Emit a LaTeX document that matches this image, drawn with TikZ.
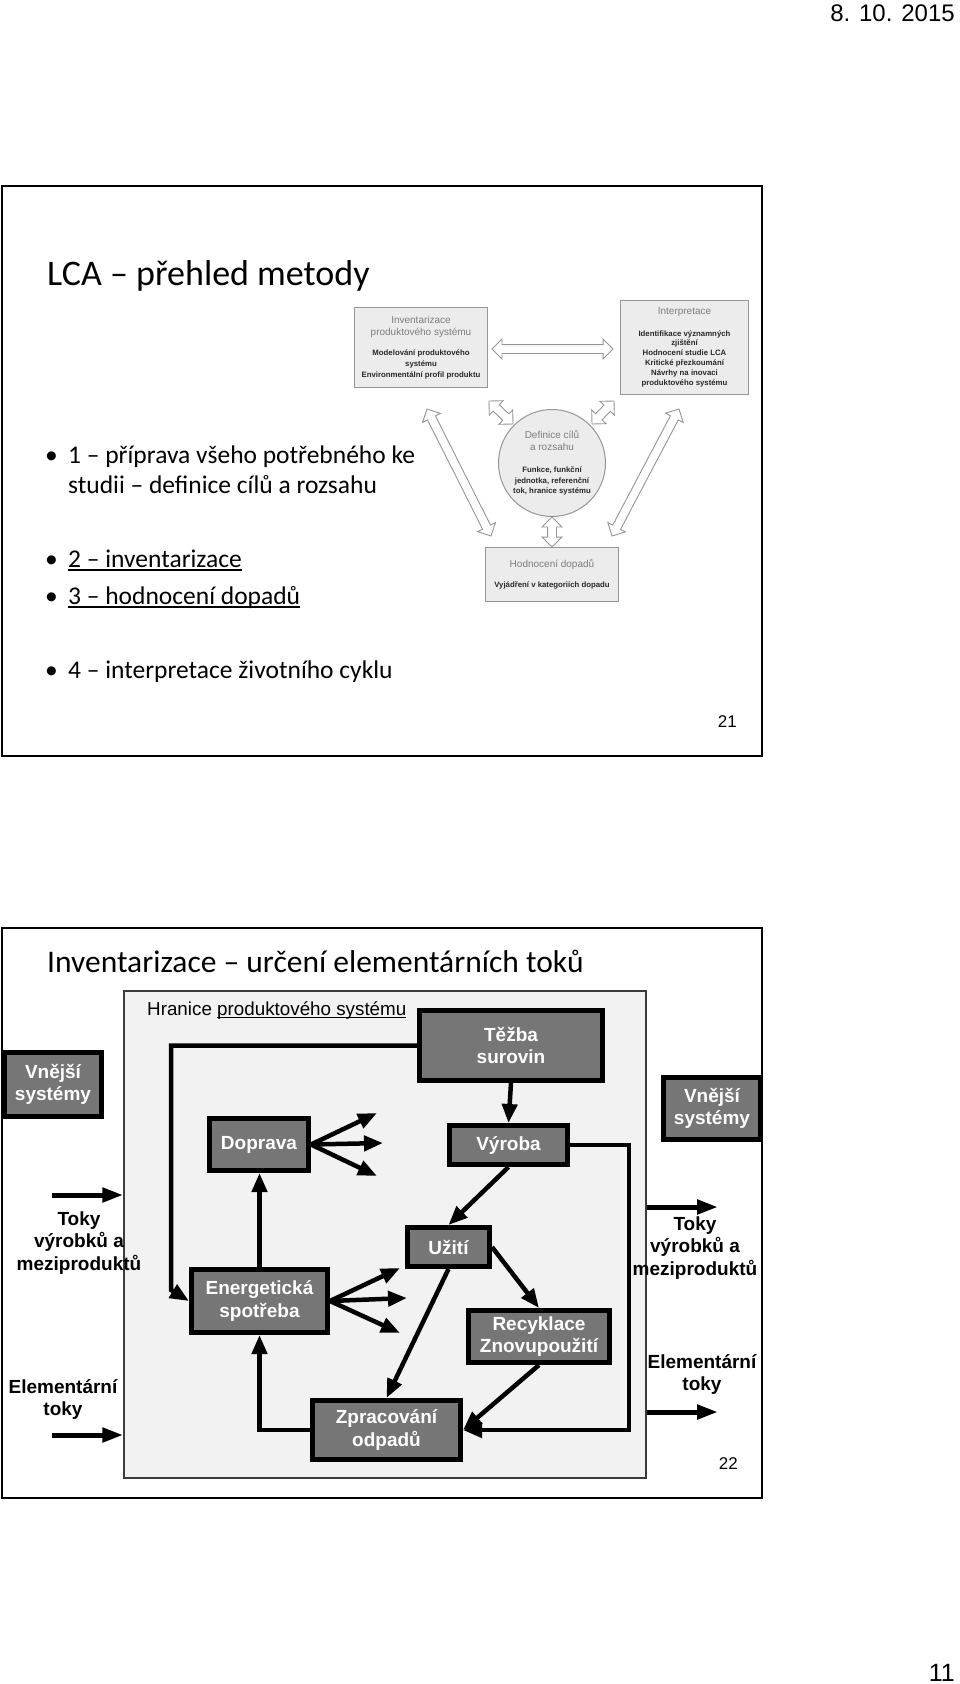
\documentclass[tikz,border=0pt]{standalone}
\usepackage{fontspec}
\setmainfont{Liberation Sans}
\newfontfamily\calfont{Carlito}
\usetikzlibrary{arrows.meta,shapes.arrows,calc}
\definecolor{boxgray}{RGB}{118,118,118}
\definecolor{bndfill}{RGB}{242,242,242}
\definecolor{bndline}{RGB}{60,60,60}
\definecolor{lcafill}{RGB}{236,236,236}
\definecolor{lcaline}{RGB}{150,150,150}
\definecolor{lcahdr}{RGB}{125,125,125}
\definecolor{lcabody}{RGB}{40,40,40}
\newcommand\boxfont{\bfseries\fontsize{19}{22.5}\selectfont}
\newcommand\lh[1]{{\color{lcahdr}\mdseries\fontsize{10}{11}\selectfont #1}}
\newcommand\lb[1]{{\color{lcabody}\bfseries\fontsize{7.8}{10}\selectfont #1}}
\newcommand\undl[2][3pt]{\setbox0=\hbox{#2}\rlap{\rule[-#1]{\wd0}{1.4pt}}\box0}
\newcommand\cstack[1]{\vtop{\halign{\hfil##\hfil\cr#1\crcr}}}
\newcommand\lcadbl[3]{\path let \p1=($(#3)-(#2)$) in node[lcaarr,minimum height={veclen(\x1,\y1)},rotate={atan2(\y1,\x1)}] (#1) at ($(#2)!0.5!(#3)$) {};}
\begin{document}
\begin{tikzpicture}[x=1pt,y=-1pt,
  frame/.style={draw=black,line width=2.2pt},
  dkbox/.style={draw=black,line width=5pt,fill=boxgray,text=white,font=\boxfont,align=center,inner sep=0pt},
  conn/.style={line width=4.5pt,-{Triangle[length=19pt,width=15pt]}},
  flow/.style={line width=5pt,-{Triangle[length=21pt,width=14pt]}},
  lbl/.style={font=\boxfont,inner sep=0pt,anchor=base},
  lcabox/.style={draw=lcaline,line width=1pt,fill=lcafill,inner sep=0pt},
  lcaarr/.style={double arrow,draw=lcaline,fill=white,line width=0.9pt,inner sep=4pt,double arrow head extend=5.5pt,double arrow tip angle=90},
  plain/.style={inner sep=0pt}]
\useasboundingbox (0,0) rectangle (960,1684);
\fill[white] (0,0) rectangle (960,1684);
% page header / footer
\node[plain,anchor=base east,font=\fontsize{24}{28}\selectfont] (date) at (955,21) {8. 10. 2015};
\node[plain,anchor=base east,font=\fontsize{25}{28}\selectfont] (pgno) at (955,1681) {11};
% ---------------- slide 21 ----------------
\draw[frame] (2,186) rectangle (762,756);
\node[plain,anchor=base west,font=\calfont\fontsize{36}{42}\selectfont] (title1) at (47,285.5) {LCA – přehled metody};
\begin{scope}[every node/.style={plain,anchor=base west,font=\calfont\fontsize{25.5}{30}\selectfont}]
\node (bu1) at (45,463) {•};
\node (bt1) at (68,463) {\vtop{\hbox{1 – příprava všeho potřebného ke}\hbox{studii – definice cílů a rozsahu}}};
\node (bu2) at (45,567) {•};
\node (bt2) at (68,567) {\undl[3.5pt]{2 – inventarizace}};
\node (bu3) at (45,604) {•};
\node (bt3) at (68,604) {\undl[3.5pt]{3 – hodnocení dopadů}};
\node (bu4) at (45,678) {•};
\node (bt4) at (68,678) {4 – interpretace životního cyklu};
\end{scope}
\node[plain,anchor=base east,font=\fontsize{17}{20}\selectfont] (n21) at (737,727) {21};
% LCA framework figure
\node[lcabox,minimum width=133,minimum height=80,font=\fontsize{7.8}{10.7}\selectfont] (inv) at (421,347.5)
 {\cstack{\lh{Inventarizace}\cr\noalign{\vskip 1.7pt}\lh{produktového systému}\cr\noalign{\vskip 9.3pt}\lb{Modelování produktového}\cr\lb{systému}\cr\lb{Environmentální profil produktu}}};
\node[lcabox,minimum width=128,minimum height=94,font=\fontsize{7.8}{9.9}\selectfont] (interp) at (684.5,347.5)
 {\cstack{\lh{Interpretace}\cr\noalign{\vskip 11.5pt}\lb{Identifikace významných}\cr\lb{zjištění}\cr\lb{Hodnocení studie LCA}\cr\lb{Kritické přezkoumání}\cr\lb{Návrhy na inovaci}\cr\lb{produktového systému}}};
\node[lcabox,circle,minimum size=107,font=\fontsize{7.8}{10.5}\selectfont] (defc) at (552,463)
 {\cstack{\lh{Definice cílů}\cr\noalign{\vskip 1.9pt}\lh{a rozsahu}\cr\noalign{\vskip 11.5pt}\lb{Funkce, funkční}\cr\lb{jednotka, referenční}\cr\lb{tok, hranice systému}}};
\node[lcabox,minimum width=133,minimum height=54,font=\fontsize{7.8}{10.5}\selectfont] (hodn) at (552,574.5)
 {\cstack{\lh{Hodnocení dopadů}\cr\noalign{\vskip 9.9pt}\lb{Vyjádření v kategoriích dopadu}}};
\coordinate (h1) at ($(inv.east)+(4,1.5)$);
\coordinate (h2) at ($(interp.west)+(-7,1.5)$);
\coordinate (l1) at (427,409);
\coordinate (l2) at (491,536);
\coordinate (r1) at (679,409);
\coordinate (r2) at (612,536);
\coordinate (u1) at (489,401);
\coordinate (u2) at (513,424);
\coordinate (v1) at (614,401);
\coordinate (v2) at (592,424);
\coordinate (d1) at (defc.south);
\coordinate (d2) at (hodn.north);
\lcadbl{arrH}{h1}{h2}
\lcadbl{arrL}{l1}{l2}
\lcadbl{arrR}{r1}{r2}
\lcadbl{arrUL}{u1}{u2}
\lcadbl{arrUR}{v1}{v2}
\lcadbl{arrD}{d1}{d2}
% ---------------- slide 22 ----------------
\draw[frame] (2,928) rectangle (762,1498);
\node[plain,anchor=base west,font=\calfont\fontsize{31.5}{36}\selectfont] (title2) at (47,972) {Inventarizace – určení elementárních toků};
\node[draw=bndline,line width=1.5pt,fill=bndfill,minimum width=522,minimum height=487,inner sep=0pt] (bnd) at (385,1234.5) {};
\node[plain,anchor=base west,font=\fontsize{18.8}{22}\selectfont] (hran) at (147,1015) {Hranice \undl[3.2pt]{produktového systému}};
% boxes
\node[dkbox,minimum width=183,minimum height=70] (tezba) at (511,1045.5) {Těžba\\surovin};
\node[dkbox,minimum width=99,minimum height=52] (doprava) at (259,1144.5) {Doprava};
\node[dkbox,minimum width=118,minimum height=39] (vyroba) at (508.5,1145) {Výroba};
\node[dkbox,minimum width=82,minimum height=39] (uziti) at (448.5,1247) {Užití};
\node[dkbox,minimum width=136,minimum height=63] (energ) at (259.5,1301) {Energetická\\spotřeba};
\node[dkbox,minimum width=141,minimum height=52] (recykl) at (539,1336.5) {Recyklace\\Znovupoužití};
\node[dkbox,minimum width=148,minimum height=59] (zprac) at (386.5,1430) {Zpracování\\odpadů};
\node[dkbox,minimum width=97,minimum height=64] (vnL) at (53,1084.5) {Vnější\\systémy};
\node[dkbox,minimum width=97,minimum height=62] (vnR) at (712,1108.5) {Vnější\\systémy};
% connectors
\coordinate (dA1) at (377,1113);
\coordinate (dA2) at (383,1143);
\coordinate (dA3) at (377,1176);
\draw[conn] (doprava.east) -- (dA1);
\draw[conn] (doprava.east) -- (dA2);
\draw[conn] (doprava.east) -- (dA3);
\coordinate (eA1) at (400,1268);
\coordinate (eA2) at (407,1298);
\coordinate (eA3) at (400,1333);
\draw[conn] (energ.east) -- (eA1);
\draw[conn] (energ.east) -- (eA2);
\draw[conn] (energ.east) -- (eA3);
\coordinate (fb1) at (171,1045.5);
\coordinate (fb2) at (171,1290);
\draw[conn] (tezba.west) -- (fb1) -- (fb2) -- (energ.west);
\draw[conn] (tezba.south) -- (vyroba.north);
\draw[conn] (vyroba.south) -- (uziti.north);
\draw[conn] (uziti.east) -- (recykl.north);
\draw[conn] (uziti.south) -- (zprac.north);
\draw[conn] (recykl.south) -- (zprac.east);
\coordinate (vr1) at (629,1145);
\coordinate (vr2) at (629,1430);
\draw[conn] (vyroba.east) -- (vr1) -- (vr2) -- (zprac.east);
\draw[conn] (zprac.west) -| (energ.south);
\draw[conn] (energ.north) -- (energ.north |- doprava.south);
% flows across boundary
\coordinate (inA) at (52,1195);
\coordinate (inB) at (52,1435);
\coordinate (outA) at (718,1207);
\coordinate (outB) at (718,1412);
\draw[flow] (inA) -- (inA -| bnd.west);
\draw[flow] (inB) -- (inB -| bnd.west);
\draw[flow] (outA -| bnd.east) -- (outA);
\draw[flow] (outB -| bnd.east) -- (outB);
\node[lbl] (lblL1) at (79,1225) {\cstack{Toky\cr výrobků a\cr meziproduktů}};
\node[lbl] (lblL2) at (63,1393) {\cstack{Elementární\cr toky}};
\node[lbl] (lblR1) at (695,1230) {\cstack{Toky\cr výrobků a\cr meziproduktů}};
\node[lbl] (lblR2) at (702,1368) {\cstack{Elementární\cr toky}};
\node[plain,anchor=base east,font=\fontsize{17}{20}\selectfont] (n22) at (738,1469) {22};
\end{tikzpicture}
\end{document}
